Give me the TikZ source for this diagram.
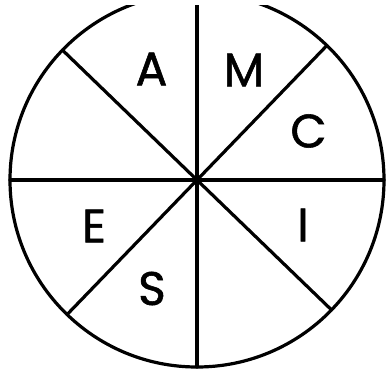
\documentclass[tikz,border=0pt]{standalone}
\usepackage{fontspec}
\newfontfamily\letterfont{Poppins}[FakeBold=1.2]
\usepackage{tikz}
\usetikzlibrary{calc}

\tikzset{
  letter/.style={font=\fontsize{47}{47}\letterfont, inner sep=0pt},
  rim/.style={line width=3.2pt},
  spoke/.style={line width=3.2pt, line cap=round}
}

\begin{document}
\begin{tikzpicture}[x=1pt, y=1pt]
  % Page frame
  \useasboundingbox (-197,-196) rectangle (190,180);
  \begin{scope}
    \clip (-197,-196) rectangle (190,175);

    % Outer circle
    \draw[rim] (0,0) circle (187);

    % Spokes
    \coordinate (O) at (0,0);
    \draw[spoke] (90:200) -- (270:187);
    \draw[spoke] (180:187) -- (0:187);
    \draw[spoke] (136:187) -- (-44:187);
    \draw[spoke] (46:187) -- (226:187);
    \fill (O) circle (3.5);
  \end{scope}

  % Letters
  \node[letter] (A) at (-45.5,111) {A};
  \node[letter] (M) at (47,110) {M};
  \node[letter] (C) at (111.5,49) {C};
  \node[letter] (I) at (106,-45) {I};
  \node[letter] (E) at (-103,-46) {E};
  \node[letter] (S) at (-45,-108.5) {S};
\end{tikzpicture}
\end{document}
